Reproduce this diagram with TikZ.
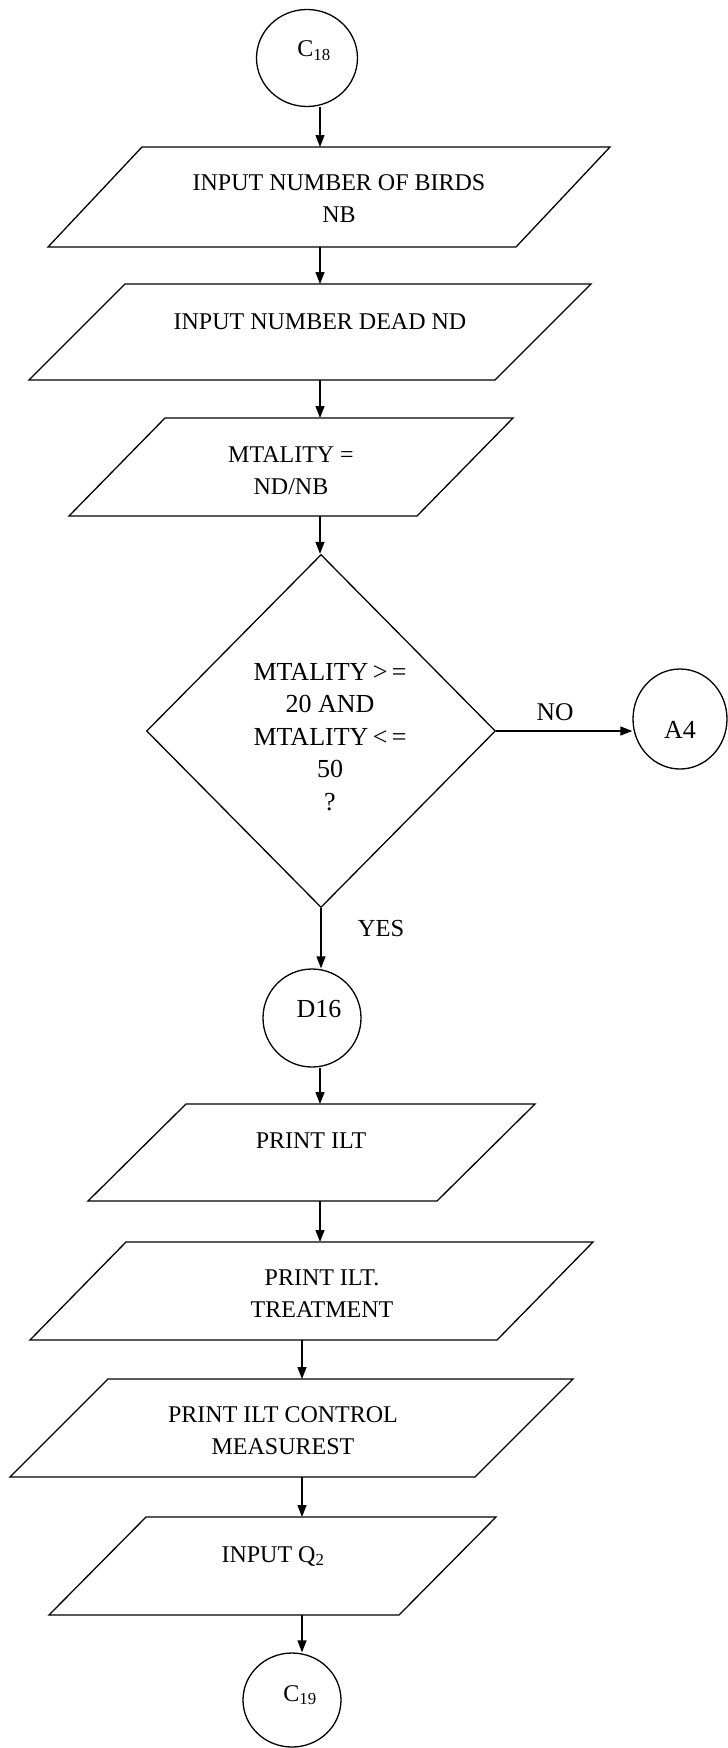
\documentclass[tikz,border=0pt]{standalone}
\usepackage{fontspec}
\setmainfont{Liberation Serif}
\usetikzlibrary{shapes.geometric,calc,arrows.meta}
\newcommand\paraout[2]{%
  \draw[shapeline] ($(#1.north west)+(#2pt,0)$) -- (#1.north east) -- ($(#1.south east)-(#2pt,0)$) -- (#1.south west) -- cycle;}
\begin{document}
\begin{tikzpicture}[x=1pt,y=-1pt,
  shapeline/.style={line width=1.3pt, line join=miter},
  conn/.style={draw, ellipse, inner sep=0pt, line width=1.3pt},
  iobox/.style={draw=none, rectangle, inner sep=0pt, outer sep=0pt},
  decis/.style={draw, diamond, inner sep=0pt, line width=1.3pt},
  txt/.style={font=\fontsize{24}{32}\selectfont, align=center, inner sep=0pt},
  bigtxt/.style={txt, font=\fontsize{26}{32.5}\selectfont},
  arr/.style={-{Triangle[length=12pt,width=9pt]}, line width=1.3pt},
]
\useasboundingbox (0,0) rectangle (728,1748);
\coordinate (sA) at (320,0);
\coordinate (sB) at (302,0);

% connector C18
\node[conn, minimum width=101pt, minimum height=97pt] (c18) at (307,58) {};
\node[txt] (c18t) at (314,51) {C\textsubscript{18}};

% input number of birds
\node[iobox, minimum width=562pt, minimum height=100pt] (p1) at (329,197) {};
\paraout{p1}{94}
\node[txt] (p1t) at (339,199) {INPUT NUMBER OF BIRDS\\NB};

% input number dead
\node[iobox, minimum width=562pt, minimum height=96pt] (p2) at (310,332) {};
\paraout{p2}{96}
\node[txt] (p2t) at (320,322) {INPUT NUMBER DEAD ND};

% mtality
\node[iobox, minimum width=444pt, minimum height=98pt] (p3) at (291,467) {};
\paraout{p3}{96}
\node[txt] (p3t) at (291,471) {MTALITY =\\ND/NB};

% decision
\node[decis, minimum width=349pt, minimum height=353pt] (dec) at (321,731) {};
\node[bigtxt] (dect) at (330,737) {MTALITY\,>\,=\\20 AND\\MTALITY\,<\,=\\50\\?};

% A4
\node[conn, minimum width=94pt, minimum height=100pt] (a4) at (680,719) {};
\node[bigtxt] (a4t) at (680,730) {A4};
\node[bigtxt, font=\fontsize{25.5}{30}\selectfont] (nolbl) at (555,712) {NO};
\node[txt, font=\fontsize{24.5}{30}\selectfont] (yeslbl) at (381,928) {YES};

% D16
\node[conn, minimum width=98pt, minimum height=98pt] (d16) at (312,1018) {};
\node[bigtxt] (d16t) at (319,1009) {D16};

% print ILT
\node[iobox, minimum width=447pt, minimum height=97pt] (p4) at (311.5,1152.5) {};
\paraout{p4}{98}
\node[txt] (p4t) at (311,1141) {PRINT ILT};

% print ILT treatment
\node[iobox, minimum width=563pt, minimum height=98pt] (p5) at (311.5,1291) {};
\paraout{p5}{96}
\node[txt] (p5t) at (322,1294) {PRINT ILT.\\TREATMENT};

% print ILT control
\node[iobox, minimum width=563pt, minimum height=98pt] (p6) at (291.5,1428) {};
\paraout{p6}{98}
\node[txt] (p6t) at (283,1431) {PRINT ILT CONTROL\\MEASUREST};

% input Q2
\node[iobox, minimum width=447pt, minimum height=98pt] (p7) at (272.5,1566) {};
\paraout{p7}{97}
\node[txt] (p7t) at (273,1556) {INPUT Q\textsubscript{2}};

% C19
\node[conn, minimum width=98pt, minimum height=94pt] (c19) at (292,1700) {};
\node[txt] (c19t) at (300,1695) {C\textsubscript{19}};

% connectors
\draw[arr] (c18.south -| sA) -- (p1.north -| sA);
\draw[arr] (p1.south -| sA) -- (p2.north -| sA);
\draw[arr] (p2.south -| sA) -- (p3.north -| sA);
\draw[arr] (p3.south -| sA) -- (dec.north -| sA);
\draw[arr] (dec.east) -- (a4.west |- dec.east);
\draw[arr] (dec.south) -- (dec.south |- d16.north);
\draw[arr] (d16.south -| sA) -- (p4.north -| sA);
\draw[arr] (p4.south -| sA) -- (p5.north -| sA);
\draw[arr] (p5.south -| sB) -- (p6.north -| sB);
\draw[arr] (p6.south -| sB) -- (p7.north -| sB);
\draw[arr] (p7.south -| sB) -- (c19.north -| sB);
\end{tikzpicture}
\end{document}
